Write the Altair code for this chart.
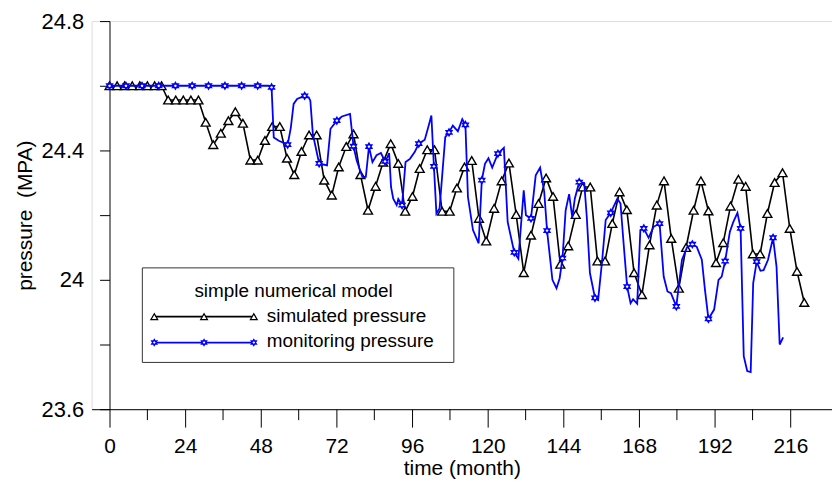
import altair as alt
import pandas as pd

# ---------------- data ----------------
sim_t = [0, 2.4, 4.8, 7.2, 9.6, 12.0, 14.3, 16.5, 18.6, 21.0, 23.4, 25.8, 28.2,
         30.5, 32.9, 35.3, 37.7, 39.9, 42.3, 44.7, 47.0, 49.3, 51.6, 54.0, 56.3,
         58.6, 60.9, 63.3, 65.7, 68.1, 70.5, 72.7, 75.1, 77.4, 79.6, 82.0, 84.4,
         86.8, 89.2, 91.6, 93.8, 96.1, 98.4, 100.8, 103.1, 105.5, 107.9, 110.2,
         112.6, 114.9, 117.2, 119.5, 122.0, 124.4, 126.7, 129.0, 131.4, 133.7,
         136.1, 138.5, 140.7, 143.0, 145.5, 147.9, 150.1, 152.5, 154.8, 157.2,
         159.5, 161.8, 164.1, 166.4, 168.9, 171.3, 173.6, 175.9, 178.2, 180.6,
         182.9, 185.3, 187.6, 190.0, 192.4, 194.7, 197.0, 199.5, 201.8, 204.1,
         206.4, 208.7, 211.0, 213.5, 215.8, 218.1, 220.4]
sim_p = [24.6, 24.6, 24.6, 24.6, 24.6, 24.6, 24.6, 24.6, 24.556, 24.556, 24.556,
         24.556, 24.556, 24.487, 24.418, 24.453, 24.492, 24.52, 24.484, 24.37,
         24.37, 24.431, 24.474, 24.474, 24.376, 24.325, 24.397, 24.448, 24.448,
         24.308, 24.262, 24.349, 24.412, 24.451, 24.325, 24.215, 24.289, 24.364,
         24.421, 24.36, 24.212, 24.258, 24.344, 24.402, 24.402, 24.212, 24.212,
         24.284, 24.349, 24.369, 24.19, 24.12, 24.221, 24.306, 24.361, 24.202,
         24.022, 24.138, 24.236, 24.315, 24.258, 24.048, 24.105, 24.202, 24.287,
         24.287, 24.058, 24.058, 24.174, 24.272, 24.217, 24.022, 23.954, 24.108,
         24.231, 24.306, 24.128, 23.974, 24.1, 24.215, 24.306, 24.213, 24.053,
         24.115, 24.228, 24.311, 24.289, 24.08, 24.08, 24.205, 24.301, 24.331,
         24.159, 24.026, 23.93]

mon_t = [0, 5.2, 10.3, 15.6, 20.9, 26.2, 31.4, 36.6, 41.9, 47.0, 50.4, 51.4,
         52.1, 53.7, 56.5, 57.5, 58.4, 59.5, 61.9, 63.2, 63.7, 64.5, 66.5, 69.0,
         70.1, 72.1, 73.7, 76.3, 77.4, 78.4, 80.2, 81.3, 82.3, 83.4, 84.7, 86.1,
         87.4, 88.2, 88.7, 89.3, 90.0, 91.1, 91.6, 92.8, 93.9, 95.3, 96.8, 98.1,
         100.0, 101.1, 102.1, 102.9, 103.7, 104.7, 106.5, 107.7, 108.9, 110.5,
         111.9, 112.9, 113.7, 115.3, 117.1, 118.1, 119.1, 120.2, 121.4, 123.2,
         125.1, 126.3, 128.4, 129.7, 131.4, 132.1, 133.7, 135.2, 136.6, 137.9,
         138.8, 140.5, 141.8, 142.8, 143.7, 144.7, 145.8, 146.8, 147.6, 149.0,
         150.6, 151.4, 152.4, 154.0, 155.0, 156.3, 157.4, 159.0, 161.1, 162.1,
         163.0, 164.2, 165.3, 166.1, 167.4, 168.4, 169.5, 171.0, 172.6, 174.5,
         175.8, 177.0, 178.1, 179.8, 181.6, 183.2, 184.9, 186.3, 187.9, 188.9,
         190.0, 191.8, 193.2, 194.2, 195.3, 196.8, 197.9, 199.2, 200.2, 201.2,
         202.3, 203.4, 204.2, 205.3, 206.5, 207.5, 208.9, 210.5, 211.6, 212.6,
         213.7]
mon_p = [24.6, 24.6, 24.6, 24.6, 24.6, 24.6, 24.6, 24.6, 24.6, 24.6, 24.6, 24.595,
         24.44, 24.43, 24.418, 24.47, 24.544, 24.559, 24.569, 24.564, 24.554,
         24.45, 24.36, 24.354, 24.467, 24.492, 24.505, 24.513, 24.413, 24.369,
         24.318, 24.318, 24.412, 24.364, 24.385, 24.392, 24.366, 24.38, 24.392,
         24.287, 24.251, 24.231, 24.25, 24.231, 24.364, 24.374, 24.395, 24.421,
         24.433, 24.472, 24.508, 24.351, 24.205, 24.221, 24.441, 24.456, 24.477,
         24.459, 24.497, 24.479, 24.256, 24.154, 24.113, 24.308, 24.359, 24.376,
         24.347, 24.39, 24.408, 24.179, 24.085, 24.065, 24.277, 24.2, 24.19,
         24.323, 24.347, 24.272, 24.152, 24.0, 23.974, 24.005, 24.067, 24.215,
         24.265, 24.193, 24.251, 24.302, 24.299, 24.195, 24.021, 23.944, 23.938,
         24.062, 24.185, 24.207, 24.251, 24.236, 24.123, 23.979, 23.928, 23.94,
         23.926, 24.154, 24.159, 24.13, 24.164, 24.174, 24.01, 23.964, 23.959,
         23.918, 24.062, 24.1, 24.11, 24.102, 24.062, 23.969, 23.879, 23.908,
         24.0, 24.01, 24.058, 24.149, 24.179, 24.207, 24.159, 23.764, 23.718,
         23.715, 23.99, 24.056, 24.028, 24.03, 24.062, 24.13, 24.041, 23.8, 23.822]
mon_mark = [1, 1, 1, 1, 1, 1, 1, 1, 1, 1, 0, 1,
            0, 0, 1, 0, 0, 0, 1, 0, 0, 0, 1, 0,
            0, 1, 0, 0, 1, 0, 0, 0, 1, 0, 0, 0,
            1, 0, 0, 0, 0, 0, 0, 1, 0, 0, 0, 1,
            0, 0, 0, 1, 0, 0, 0, 1, 0, 0,
            0, 1, 0, 0, 0, 1, 0, 0, 0, 1,
            0, 0, 1, 0, 0, 0, 1, 0, 0, 0,
            1, 0, 0, 0, 1, 0, 0, 0, 0, 1,
            0, 0, 0, 1, 0, 0, 0, 1, 0, 0,
            0, 1, 0, 0, 0, 0, 1, 0, 0, 1,
            0, 0, 0, 1, 0, 0, 1, 0, 0, 0,
            1, 0, 0, 0, 1, 0, 0, 0, 1, 0,
            0, 0, 0, 1, 0, 0, 0, 1, 0, 0,
            0]

x_major = [0, 24, 48, 72, 96, 120, 144, 168, 192, 216]
x_minor = [12, 36, 60, 84, 108, 132, 156, 180, 204]
y_ticks = [23.6, 23.8, 24.0, 24.2, 24.4, 24.6, 24.8]

legend_title = "simple numerical model"
series_names = ["simulated pressure", "monitoring pressure"]

X_DOMAIN = [-5.7, 229.2]
Y_DOMAIN = [23.6, 24.8]
FONT = "Liberation Sans"
BLUE = "#0000ff"
HEXAGRAM = "M0,-1L0.866,0.5L-0.866,0.5Z M0,1L-0.866,-0.5L0.866,-0.5Z"

# ---------------- tables ----------------
sim_df = pd.DataFrame({"t": sim_t, "p": sim_p})
mon_df = pd.DataFrame({"t": mon_t, "p": mon_p, "m": mon_mark})
mk_df = mon_df[mon_df["m"] == 1]
minor_df = pd.DataFrame({"t": x_minor})

xscale = alt.Scale(domain=X_DOMAIN, nice=False, zero=False)
yscale = alt.Scale(domain=Y_DOMAIN, nice=False, zero=False)

xaxis = alt.Axis(values=x_major, tickSize=18, tickColor="black", domainColor="black",
                 labelFont=FONT, labelFontSize=21, labelColor="black", labelPadding=9,
                 labelFlush=False, grid=False, title="time (month)", titleFont=FONT,
                 titleFontSize=21, titleFontWeight="normal", titleColor="black",
                 titlePadding=1, format="d")
yaxis = alt.Axis(values=y_ticks, tickSize=10, tickColor="black", domainColor="black",
                 offset=-18, labelFont=FONT, labelFontSize=22, labelColor="black",
                 labelPadding=16, labelOverlap=False, labelFlush=False, grid=False,
                 labelExpr="(round(datum.value*10) % 4 == 0) ? format(datum.value, '~g') : ''",
                 title="pressure \u00a0(MPA)", titleFont=FONT, titleFontSize=21,
                 titleFontWeight="normal", titleColor="black", titlePadding=6)

sim_line = alt.Chart(sim_df).mark_line(color="black", strokeWidth=1.6).encode(
    x=alt.X("t:Q", scale=xscale, axis=xaxis),
    y=alt.Y("p:Q", scale=yscale, axis=yaxis),
)
sim_pts = alt.Chart(sim_df).mark_point(
    shape="triangle-up", size=80, filled=True, fill="white", stroke="black",
    strokeWidth=1.4, opacity=1
).encode(x="t:Q", y="p:Q")

mon_line = alt.Chart(mon_df).mark_line(color=BLUE, strokeWidth=1.8).encode(
    x="t:Q", y="p:Q")
mon_pts = alt.Chart(mk_df).mark_point(
    shape=HEXAGRAM, size=50, filled=True, fill="white", stroke=BLUE,
    strokeWidth=1.3, opacity=1
).encode(x="t:Q", y="p:Q")

minor_ticks = alt.Chart(minor_df).mark_rule(color="black", strokeWidth=1).encode(
    x="t:Q", y=alt.value(390), y2=alt.value(401))

# ---------------- hand-drawn legend box ----------------
leg_box = alt.Chart(pd.DataFrame({"a": [0]})).mark_rect(
    fill="white", stroke="#333333", strokeWidth=1).encode(
    x=alt.value(51), x2=alt.value(364), y=alt.value(248), y2=alt.value(343))
leg_title = alt.Chart(pd.DataFrame({"a": [0]})).mark_text(
    text=legend_title, font=FONT, fontSize=19, align="center", baseline="middle",
    color="black").encode(x=alt.value(203), y=alt.value(271))

leg_sym = pd.DataFrame({
    "px": [63, 113, 163, 63, 113, 163],
    "py": [297, 297, 297, 323, 323, 323],
    "s": [series_names[0]] * 3 + [series_names[1]] * 3,
})
leg_line1 = alt.Chart(pd.DataFrame({"a": [0]})).mark_rule(color="black", strokeWidth=1.6).encode(
    x=alt.value(63), x2=alt.value(163), y=alt.value(297))
leg_line2 = alt.Chart(pd.DataFrame({"a": [0]})).mark_rule(color=BLUE, strokeWidth=1.8).encode(
    x=alt.value(63), x2=alt.value(163), y=alt.value(323))
leg_tri = alt.Chart(leg_sym[leg_sym["s"] == series_names[0]]).mark_point(
    shape="triangle-up", size=45, filled=True, fill="white", stroke="black",
    strokeWidth=1.3, opacity=1).encode(
    x=alt.X("px:Q", scale=None, axis=None), y=alt.Y("py:Q", scale=None, axis=None))
leg_hex = alt.Chart(leg_sym[leg_sym["s"] == series_names[1]]).mark_point(
    shape=HEXAGRAM, size=40, filled=True, fill="white", stroke=BLUE,
    strokeWidth=1.2, opacity=1).encode(
    x=alt.X("px:Q", scale=None, axis=None), y=alt.Y("py:Q", scale=None, axis=None))
leg_txt1 = alt.Chart(pd.DataFrame({"a": [0]})).mark_text(
    text=series_names[0], font=FONT, fontSize=19, align="left", baseline="middle",
    color="black").encode(x=alt.value(176), y=alt.value(296))
leg_txt2 = alt.Chart(pd.DataFrame({"a": [0]})).mark_text(
    text=series_names[1], font=FONT, fontSize=19, align="left", baseline="middle",
    color="black").encode(x=alt.value(176), y=alt.value(322))

chart = alt.layer(
    sim_line, minor_ticks, sim_pts, mon_line, mon_pts,
    leg_box, leg_title, leg_line1, leg_line2, leg_tri, leg_hex, leg_txt1, leg_txt2,
).properties(
    width=744, height=390,
    padding={"left": 84, "top": 12, "right": 0, "bottom": 70},
    autosize=alt.AutoSizeParams(type="none"),
).configure_view(strokeWidth=0).configure(background="white")

chart.save("out.html", embed_options={"renderer": "svg", "actions": False})
